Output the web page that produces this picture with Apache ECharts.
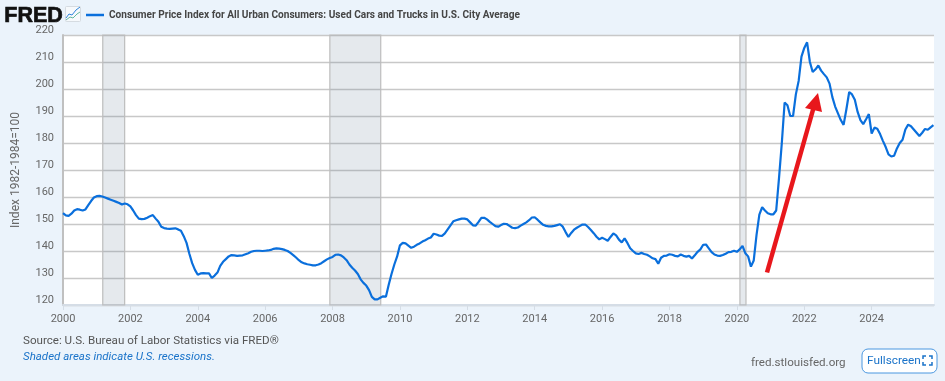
<!DOCTYPE html>
<html>
<head>
<meta charset="utf-8">
<title>Used Cars and Trucks CPI</title>
<style>
  html, body { margin: 0; padding: 0; background: #ebf3fb; }
  #chart { width: 945px; height: 381px; }
</style>
<script src="https://cdn.jsdelivr.net/npm/echarts@6/dist/echarts.min.js"></script>
</head>
<body>
<div id="chart"></div>
<script>
(function() {
  'use strict';

  var seriesName = 'Consumer Price Index for All Urban Consumers: Used Cars and Trucks in U.S. City Average';
  var startYear = 2000;

  // monthly values, one row per year
  var values = [
    154.0, 153.2, 153.0, 153.8, 155.0, 155.5, 155.3, 155.0, 155.4, 157.0, 158.5, 159.8,
    160.3, 160.4, 160.2, 159.8, 159.4, 159.0, 158.6, 158.2, 157.8, 157.2, 157.6, 157.3,
    156.5, 155.0, 153.3, 152.0, 151.8, 151.9, 152.3, 152.9, 153.3, 152.0, 150.8, 149.0,
    148.5, 148.3, 148.2, 148.3, 148.4, 148.0, 147.5, 145.5, 143.0, 139.0, 135.5, 133.0,
    131.2, 131.7, 131.8, 131.7, 131.7, 130.0, 130.9, 132.0, 134.5, 136.0, 137.0, 138.0,
    138.5, 138.4, 138.2, 138.3, 138.4, 138.8, 139.2, 139.7, 140.0, 140.1, 140.1, 140.0,
    140.1, 140.2, 140.4, 140.8, 141.0, 140.9, 140.7, 140.4, 140.0, 139.3, 138.5, 137.6,
    136.6, 135.8, 135.4, 135.1, 134.9, 134.7, 134.7, 135.0, 135.5, 136.2, 136.9, 137.4,
    137.8, 138.6, 138.7, 138.4, 137.6, 136.6, 135.0, 133.8, 132.8, 131.5, 129.5, 128.2,
    127.2, 125.5, 123.0, 122.1, 122.1, 122.7, 123.2, 123.1, 127.5, 131.5, 135.0, 138.0,
    142.1, 143.0, 142.8, 142.0, 141.2, 141.6, 142.3, 142.8, 143.5, 144.0, 144.6, 145.0,
    146.4, 146.1, 145.7, 145.6, 146.5, 148.0, 149.5, 151.0, 151.4, 151.7, 152.0, 152.0,
    151.7, 150.6, 149.5, 149.4, 150.8, 152.3, 152.3, 151.7, 150.8, 150.0, 149.2, 149.0,
    149.6, 150.1, 150.0, 149.3, 148.6, 148.5, 148.7, 149.4, 150.0, 150.6, 151.4, 152.4,
    152.5, 151.6, 150.6, 149.7, 149.3, 149.1, 149.1, 149.3, 149.6, 149.9, 149.0, 147.0,
    145.2, 146.7, 147.9, 148.6, 149.2, 149.8, 149.8, 148.9, 147.8, 146.6, 145.3, 144.3,
    144.9, 144.4, 143.8, 145.2, 146.5, 145.8, 144.2, 143.2, 144.7, 143.0, 141.0, 140.0,
    139.1, 138.9, 139.3, 138.9, 138.6, 138.0, 137.3, 137.0, 135.3, 137.5, 138.2, 138.3,
    138.8, 138.6, 138.2, 138.0, 138.7, 138.2, 137.9, 138.2, 137.2, 138.4, 139.7, 140.6,
    142.3, 142.4, 141.0, 139.6, 138.7, 138.3, 138.2, 138.5, 139.0, 139.6, 139.7, 140.1,
    139.7, 140.6, 141.9, 139.2, 138.0, 134.2, 136.5, 146.0, 153.5, 156.2, 155.0, 154.0,
    153.6, 153.6, 155.0, 167.0, 180.0, 195.0, 194.0, 190.0, 190.0, 198.0, 203.0, 212.0,
    215.2, 217.3, 210.0, 206.3, 207.3, 208.7, 206.8, 205.5, 204.3, 202.0, 197.0, 193.5,
    191.0, 188.5, 186.7, 192.5, 198.9, 198.0, 196.0, 191.5, 188.5, 187.0, 188.8, 190.7,
    183.5, 185.7, 185.3, 183.3, 180.8, 178.5, 175.8, 175.0, 175.3, 178.0, 180.0, 181.2,
    185.0, 186.8, 186.2, 185.0, 183.8, 182.6, 183.8, 185.2, 184.9, 185.8, 186.6
  ];

  // recessions as decimal years
  var recessionStart = [2001.18, 2007.92, 2020.09];
  var recessionEnd = [2001.83, 2009.43, 2020.27];

  var xTicks = [2000, 2002, 2004, 2006, 2008, 2010, 2012, 2014, 2016, 2018, 2020, 2022, 2024];

  var points = [];
  for (var i = 0; i < values.length; i++) {
    points.push([startYear + i / 12, values[i]]);
  }

  var areas = [];
  for (var j = 0; j < recessionStart.length; j++) {
    areas.push([{ xAxis: recessionStart[j] }, { xAxis: recessionEnd[j] }]);
  }

  var myChart = echarts.init(document.getElementById('chart'));

  var option = {
    animation: false,
    backgroundColor: '#ebf3fb',
    textStyle: { fontFamily: 'Roboto' },
    grid: {
      show: true,
      outerBoundsMode: 'none',
      left: 63,
      right: 11,
      top: 35,
      bottom: 76,
      backgroundColor: '#fff',
      borderWidth: 0
    },
    legend: {
      left: 81,
      top: 5,
      icon: 'rect',
      itemWidth: 18,
      itemHeight: 2.5,
      itemGap: 0,
      textStyle: {
        color: '#454545',
        fontWeight: 'bold',
        fontSize: 10.1,
        fontFamily: 'Roboto'
      },
      data: [seriesName]
    },
    xAxis: {
      type: 'value',
      min: 2000,
      max: 2025.85,
      splitLine: { show: false },
      axisLine: { show: true, lineStyle: { color: '#d5dde6', width: 2 } },
      axisTick: { show: true, length: 5, customValues: xTicks, lineStyle: { color: '#d5dde6' } },
      axisLabel: {
        color: '#666',
        fontSize: 11,
        margin: 9,
        customValues: xTicks,
        formatter: function(v) { return '' + v; }
      }
    },
    yAxis: {
      type: 'value',
      min: 120,
      max: 220,
      interval: 10,
      name: 'Index 1982-1984=100',
      nameLocation: 'middle',
      nameRotate: 90,
      nameGap: 41,
      nameTextStyle: { color: '#666', fontSize: 12 },
      splitLine: { show: true, lineStyle: { color: '#c8c8c8', width: 1.4 } },
      axisLine: { show: true, lineStyle: { color: '#c0c0c0', width: 2 } },
      axisTick: { show: false },
      axisLabel: {
        color: '#666',
        fontSize: 11,
        margin: 9,
        verticalAlign: 'bottom',
        lineHeight: 10
      }
    },
    series: [{
      name: seriesName,
      type: 'line',
      data: points,
      showSymbol: false,
      symbol: 'none',
      lineStyle: { color: '#0a6fdc', width: 2.2 },
      itemStyle: { color: '#0a6fdc' },
      z: 5,
      markArea: {
        silent: true,
        itemStyle: {
          color: 'rgba(100,125,150,0.17)',
          borderColor: '#bdbdbd',
          borderWidth: 1.2
        },
        data: areas
      }
    }],
    graphic: [
      // FRED logo
      {
        type: 'text', left: 4, top: 5, z: 20,
        style: { text: 'FRED', fill: '#111', stroke: '#111', lineWidth: 0.7, font: '900 21.5px "Liberation Sans"' }
      },
      {
        type: 'rect', z: 20,
        shape: { x: 65.5, y: 6.5, width: 15, height: 15, r: 1 },
        style: { fill: '#f6f9fc', stroke: '#d5dbe1', lineWidth: 1 }
      },
      {
        type: 'polyline', z: 21,
        shape: { points: [[66, 18], [69, 14], [72, 15], [76, 10], [80, 7]] },
        style: { fill: 'none', stroke: '#2f86dd', lineWidth: 1 }
      },
      {
        type: 'polyline', z: 21,
        shape: { points: [[66, 20], [70, 17], [73, 18], [77, 14], [80, 12]] },
        style: { fill: 'none', stroke: '#63b8a0', lineWidth: 1 }
      },
      // red arrow drawn over the chart
      {
        type: 'polyline', z: 30,
        shape: { points: [[767, 272.5], [813.5, 108]] },
        style: { fill: 'none', stroke: '#e8171c', lineWidth: 4.5 }
      },
      {
        type: 'polygon', z: 30,
        shape: { points: [[818, 93], [805, 108], [822, 112]] },
        style: { fill: '#e8171c' }
      },
      // footer
      {
        type: 'text', left: 23, top: 335, z: 20,
        style: { text: 'Source: U.S. Bureau of Labor Statistics via FRED\u00ae', fill: '#555', font: '11.6px Roboto' }
      },
      {
        type: 'text', left: 23, top: 351.5, z: 20,
        style: { text: 'Shaded areas indicate U.S. recessions.', fill: '#1a73c9', font: 'italic 11.5px Roboto' }
      },
      {
        type: 'text', left: 751, top: 357, z: 20,
        style: { text: 'fred.stlouisfed.org', fill: '#666', font: '11.6px Roboto' }
      },
      {
        type: 'rect', z: 20,
        shape: { x: 862, y: 349, width: 75, height: 24, r: 6 },
        style: { fill: '#fff', stroke: '#4a97e0', lineWidth: 1 }
      },
      {
        type: 'text', left: 867, top: 355, z: 21,
        style: { text: 'Fullscreen', fill: '#1a73c9', font: '11.8px Roboto' }
      },
      // fullscreen icon corners
      {
        type: 'polyline', z: 21,
        shape: { points: [[923, 359], [923, 356], [926, 356]] },
        style: { fill: 'none', stroke: '#1a73c9', lineWidth: 1.5 }
      },
      {
        type: 'polyline', z: 21,
        shape: { points: [[929, 356], [932, 356], [932, 359]] },
        style: { fill: 'none', stroke: '#1a73c9', lineWidth: 1.5 }
      },
      {
        type: 'polyline', z: 21,
        shape: { points: [[923, 362], [923, 365], [926, 365]] },
        style: { fill: 'none', stroke: '#1a73c9', lineWidth: 1.5 }
      },
      {
        type: 'polyline', z: 21,
        shape: { points: [[929, 365], [932, 365], [932, 362]] },
        style: { fill: 'none', stroke: '#1a73c9', lineWidth: 1.5 }
      }
    ]
  };

  myChart.setOption(option);
}());
</script>
</body>
</html>
